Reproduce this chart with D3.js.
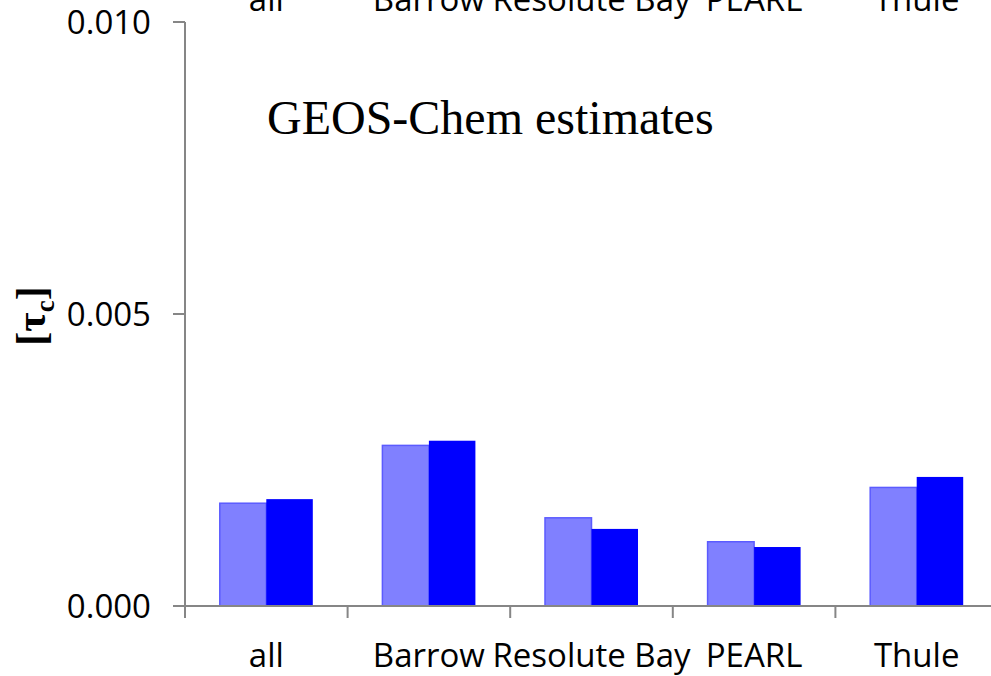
<!DOCTYPE html>
<html><head><meta charset="utf-8">
<script src="https://cdn.jsdelivr.net/npm/d3@7"></script>
<style>body{margin:0;background:#fff}svg{display:block}</style>
</head><body><svg id="c" width="991" height="676"></svg>
<script>
const categories = ["all", "Barrow", "Resolute Bay", "PEARL", "Thule"];
const seriesA = [0.00176, 0.00275, 0.00151, 0.00110, 0.00203];
const seriesB = [0.00183, 0.00283, 0.00132, 0.00101, 0.00221];
const yTicks = [0.000, 0.005, 0.010];
const title = "GEOS-Chem estimates";

const svg = d3.select("#c");
const axisColor = "#868686";
const tickFont = "'Open Sans', Lato, sans-serif";
const tickSize = 33;

const y = d3.scaleLinear().domain([0, 0.010]).range([606, 22]);
const x = d3.scaleBand().domain(categories).range([185, 998]).paddingInner(0.428).paddingOuter(0.214);
const xs = d3.scaleBand().domain([0, 1]).range([0, x.bandwidth()]);
const step = x.step();

// bars
const g = svg.append("g");
categories.forEach((c, i) => {
  g.append("rect").attr("x", x(c) + xs(0)).attr("width", xs.bandwidth())
    .attr("y", y(seriesA[i])).attr("height", y(0) - y(seriesA[i]))
    .attr("fill", "#8080FF").attr("stroke", "#5B5BFF").attr("stroke-width", 1.5);
  g.append("rect").attr("x", x(c) + xs(1)).attr("width", xs.bandwidth())
    .attr("y", y(seriesB[i])).attr("height", y(0) - y(seriesB[i]))
    .attr("fill", "#0000FF");
});

// y axis
svg.append("line").attr("x1", 185).attr("x2", 185).attr("y1", y(0.010)).attr("y2", y(0) + 12)
  .attr("stroke", axisColor).attr("stroke-width", 2);
yTicks.forEach(t => {
  svg.append("line").attr("x1", 173).attr("x2", 185).attr("y1", y(t)).attr("y2", y(t))
    .attr("stroke", axisColor).attr("stroke-width", 2);
  svg.append("text").attr("x", 151).attr("y", y(t)).attr("dy", "0.36em")
    .attr("text-anchor", "end").attr("font-family", tickFont).attr("font-size", tickSize)
    .attr("fill", "#000").text(d3.format(".3f")(t));
});

// x axis
svg.append("line").attr("x1", 173).attr("x2", 998).attr("y1", y(0)).attr("y2", y(0))
  .attr("stroke", axisColor).attr("stroke-width", 2);
d3.range(categories.length + 1).forEach(i => {
  const xx = 185 + i * step;
  svg.append("line").attr("x1", xx).attr("x2", xx).attr("y1", y(0)).attr("y2", y(0) + 12)
    .attr("stroke", axisColor).attr("stroke-width", 2);
});
categories.forEach(c => {
  svg.append("text").attr("x", x(c) + x.bandwidth() / 2).attr("y", 667)
    .attr("text-anchor", "middle").attr("font-family", tickFont).attr("font-size", tickSize)
    .attr("fill", "#000").text(c);
  svg.append("text").attr("x", x(c) + x.bandwidth() / 2).attr("y", 11)
    .attr("text-anchor", "middle").attr("font-family", tickFont).attr("font-size", tickSize)
    .attr("fill", "#000").text(c);
});

// title
svg.append("text").attr("x", 267).attr("y", 134)
  .attr("font-family", "'Liberation Serif', 'Times New Roman', serif").attr("font-size", 48)
  .attr("fill", "#000").text(title);

// y label
const yl = svg.append("text").attr("transform", "translate(45,316) rotate(-90)")
  .attr("text-anchor", "middle").attr("font-family", "'Liberation Serif', serif")
  .attr("font-weight", "bold").attr("font-size", 42).attr("fill", "#000");
yl.append("tspan").text("[τ");
yl.append("tspan").attr("font-size", 27).attr("dy", 9).text("c");
yl.append("tspan").attr("dy", -9).text("]");
</script></body></html>
